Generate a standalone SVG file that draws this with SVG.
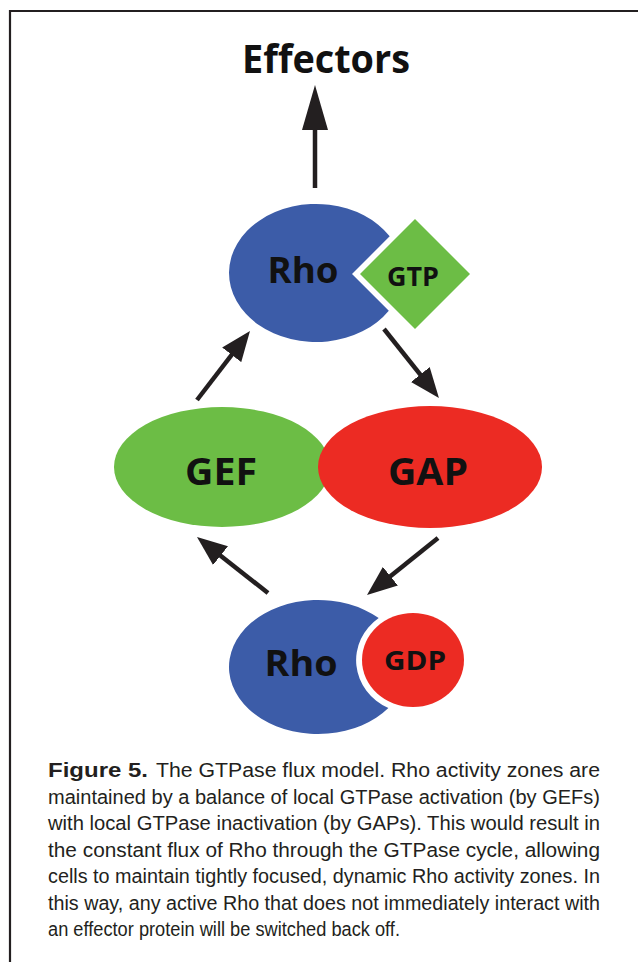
<svg xmlns="http://www.w3.org/2000/svg" width="638" height="962" viewBox="0 0 638 962">
<style>
.lbl{font-family:"Open Sans","Liberation Sans",sans-serif;font-weight:700;fill:#111;text-anchor:middle}
.cap{font-family:"Liberation Sans",Arial,sans-serif;font-size:19.5px;fill:#231f20}
.arr{stroke:#231f20;stroke-width:4.5;fill:none}
</style>
<defs>
<marker id="head" markerUnits="userSpaceOnUse" markerWidth="30" markerHeight="24" refX="10" refY="12" orient="auto" viewBox="0 0 30 24">
<path d="M0,0 L30,12 L0,24 Z" fill="#231f20"/>
</marker>
<marker id="headL" markerUnits="userSpaceOnUse" markerWidth="45" markerHeight="26" refX="15" refY="13" orient="auto" viewBox="0 0 45 26">
<path d="M0,0 L45,13 L0,26 Z" fill="#231f20"/>
</marker>
</defs>
<rect width="638" height="962" fill="#fff"/>
<path d="M10,962 V11 H638" fill="none" stroke="#231f20" stroke-width="2.2"/>

<g id="effectors">
<text class="lbl" x="326" y="73" font-size="39" textLength="168" lengthAdjust="spacingAndGlyphs">Effectors</text>
</g>

<g id="rho-gtp">
<path d="M389.7,236.3 A87,69 0 1 0 388.8,310.8 L352,274 Z" fill="#3c5ca8"/>
<text class="lbl" x="303" y="283" font-size="35" textLength="71" lengthAdjust="spacingAndGlyphs">Rho</text>
<polygon points="415,219 470,274 415,329 360,274" fill="#6cbd45"/>
<text class="lbl" x="413" y="286" font-size="26" textLength="52" lengthAdjust="spacingAndGlyphs">GTP</text>
</g>

<g id="gef">
<ellipse cx="222" cy="467" rx="108" ry="60" fill="#6cbd45"/>
<text class="lbl" x="221" y="485" font-size="38" textLength="72" lengthAdjust="spacingAndGlyphs">GEF</text>
</g>

<g id="gap">
<ellipse cx="430" cy="467" rx="112" ry="61" fill="#ec2b23"/>
<text class="lbl" x="428" y="485" font-size="38" textLength="80" lengthAdjust="spacingAndGlyphs">GAP</text>
</g>

<g id="rho-gdp">
<path d="M378.7,618 A89,67 0 1 0 388.4,708 A57,53 0 0 1 378.7,618 Z" fill="#3c5ca8"/>
<text class="lbl" x="301" y="676" font-size="35" textLength="73" lengthAdjust="spacingAndGlyphs">Rho</text>
<ellipse cx="413" cy="660" rx="51" ry="47" fill="#ec2b23"/>
<text class="lbl" x="415" y="670" font-size="26" textLength="62" lengthAdjust="spacingAndGlyphs">GDP</text>
</g>

<g id="connectors">
<line class="arr" x1="315" y1="188" x2="315" y2="115" marker-end="url(#headL)"/>
<line class="arr" x1="197" y1="400" x2="237.8" y2="346.9" marker-end="url(#head)"/>
<line class="arr" x1="384" y1="329" x2="426.5" y2="382.4" marker-end="url(#head)"/>
<line class="arr" x1="268" y1="593" x2="212.7" y2="549.4" marker-end="url(#head)"/>
<line class="arr" x1="438" y1="538" x2="382.6" y2="582.5" marker-end="url(#head)"/>
</g>

<g id="caption">
<text class="cap" x="48" y="777" textLength="100" lengthAdjust="spacingAndGlyphs" style="font-weight:bold">Figure 5.</text>
<text class="cap" x="156" y="777" textLength="444" lengthAdjust="spacingAndGlyphs">The GTPase flux model. Rho activity zones are</text>
<text class="cap" x="48" y="803.5" textLength="552" lengthAdjust="spacingAndGlyphs">maintained by a balance of local GTPase activation (by GEFs)</text>
<text class="cap" x="48" y="830" textLength="552" lengthAdjust="spacingAndGlyphs">with local GTPase inactivation (by GAPs). This would result in</text>
<text class="cap" x="48" y="856.5" textLength="552" lengthAdjust="spacingAndGlyphs">the constant flux of Rho through the GTPase cycle, allowing</text>
<text class="cap" x="48" y="883" textLength="552" lengthAdjust="spacingAndGlyphs">cells to maintain tightly focused, dynamic Rho activity zones. In</text>
<text class="cap" x="48" y="909.5" textLength="552" lengthAdjust="spacingAndGlyphs">this way, any active Rho that does not immediately interact with</text>
<text class="cap" x="48" y="936" textLength="352" lengthAdjust="spacingAndGlyphs">an effector protein will be switched back off.</text>
</g>
</svg>
